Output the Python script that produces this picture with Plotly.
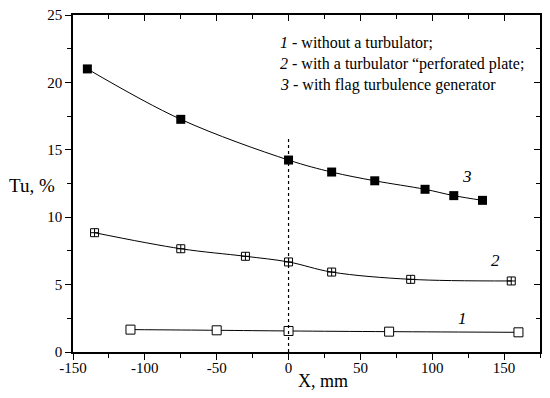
import plotly.graph_objects as go

# Series data
x1 = [-110, -50, 0, 70, 160]
y1 = [1.66, 1.61, 1.56, 1.51, 1.46]

x2 = [-135, -75, -30, 0, 30, 85, 155]
y2 = [8.85, 7.66, 7.1, 6.68, 5.93, 5.39, 5.27]

x3 = [-140, -75, 0, 30, 60, 95, 115, 135]
y3 = [21.0, 17.26, 14.24, 13.35, 12.7, 12.07, 11.6, 11.25]

ref_x = [0, 0]
ref_y = [0, 16]

x_ticks = [-150, -100, -50, 0, 50, 100, 150]
x_ticktext = ["-150", "-100", "-50", "0", "50", "100", "150"]
x_minor = [-125, -75, -25, 25, 75, 125, 175]
y_ticks = [0, 5, 10, 15, 20, 25]
y_minor = [2.5, 7.5, 12.5, 17.5, 22.5]

legend_lines = [
    ("1", " - without a turbulator;"),
    ("2", " - with a turbulator “perforated plate;"),
    ("3", " - with flag turbulence generator"),
]

FONT = "Liberation Serif"

fig = go.Figure()
fig.add_trace(go.Scatter(x=ref_x, y=ref_y, mode="lines", xaxis="x2", yaxis="y2",
                         line=dict(color="black", width=1.2, dash="dot"),
                         showlegend=False, hoverinfo="skip"))
fig.add_trace(go.Scatter(x=x1, y=y1, mode="lines+markers", line_shape="spline",
                         line=dict(color="black", width=1),
                         marker=dict(symbol="square", size=9, color="white",
                                     line=dict(color="black", width=1)),
                         showlegend=False))
fig.add_trace(go.Scatter(x=x2, y=y2, mode="lines+markers", line_shape="spline",
                         line=dict(color="black", width=1),
                         marker=dict(symbol="square-cross-open", size=8, color="black",
                                     line=dict(width=1)),
                         showlegend=False))
fig.add_trace(go.Scatter(x=x3, y=y3, mode="lines+markers", line_shape="spline",
                         line=dict(color="black", width=1),
                         marker=dict(symbol="square", size=9, color="black"),
                         showlegend=False))

axis_common = dict(showgrid=False, zeroline=False, linecolor="black", linewidth=1.5,
                   tickcolor="black", tickwidth=1.2, automargin=False,
                   ticklabeloverflow="allow",
                   tickfont=dict(family=FONT, size=15, color="black"))

# the page body has an 8px margin, so the figure is offset by 8px
fig.update_layout(
    width=542, height=390,
    margin=dict(l=65, r=10, t=7, b=46),
    paper_bgcolor="white", plot_bgcolor="white",
    xaxis=dict(range=[-150, 175], tickvals=x_ticks, ticktext=x_ticktext,
               ticks="outside", ticklen=6, mirror=True, ticklabelstandoff=-5,
               minor=dict(tickvals=x_minor, ticks="outside",
                          ticklen=4, tickcolor="black", tickwidth=1.2),
               **axis_common),
    yaxis=dict(range=[0, 25], tickvals=y_ticks,
               ticks="outside", ticklen=6, mirror=True,
               minor=dict(tickvals=y_minor, ticks="outside",
                          ticklen=4, tickcolor="black", tickwidth=1.2),
               **axis_common),
    xaxis2=dict(range=[-150, 175], overlaying="x", side="top", anchor="y2",
                tickvals=x_ticks, ticks="inside", ticklen=6,
                showticklabels=False, showline=False, automargin=False,
                minor=dict(tickvals=x_minor, ticks="inside",
                           ticklen=4, tickcolor="black", tickwidth=1.2),
                showgrid=False, zeroline=False, tickcolor="black", tickwidth=1.2),
    yaxis2=dict(range=[0, 25], overlaying="y", side="right", anchor="x2",
                tickvals=y_ticks, ticks="inside", ticklen=6,
                showticklabels=False, showline=False, automargin=False,
                minor=dict(tickvals=y_minor, ticks="inside",
                           ticklen=4, tickcolor="black", tickwidth=1.2),
                showgrid=False, zeroline=False, tickcolor="black", tickwidth=1.2),
)

annotations = []
for i, (num, txt) in enumerate(legend_lines):
    annotations.append(dict(xref="paper", yref="paper", x=(278 - 73) / 467,
                            y=1 - (43 + 21 * i - 15) / 337, xanchor="left", yanchor="middle",
                            text=f"<i>{num}</i>{txt}", showarrow=False,
                            font=dict(family=FONT, size=16, color="black")))
for lbl, xv, yv in [("3", 124, 13.0), ("2", 144, 6.8), ("1", 121, 2.5)]:
    annotations.append(dict(x=xv, y=yv, xref="x", yref="y", text=f"<i>{lbl}</i>",
                            showarrow=False, font=dict(family=FONT, size=17, color="black")))
annotations.append(dict(xref="paper", yref="paper", x=(7 - 73) / 467, y=(352 - 185) / 337,
                        xanchor="left", yanchor="middle", text="Tu, %", showarrow=False,
                        font=dict(family=FONT, size=19, color="black")))
annotations.append(dict(xref="paper", yref="paper", x=(323 - 73) / 467, y=-(381 - 352) / 337,
                        xanchor="center", yanchor="middle", text="X, mm", showarrow=False,
                        font=dict(family=FONT, size=18, color="black")))
fig.update_layout(annotations=annotations)

fig.write_html("out.html")
